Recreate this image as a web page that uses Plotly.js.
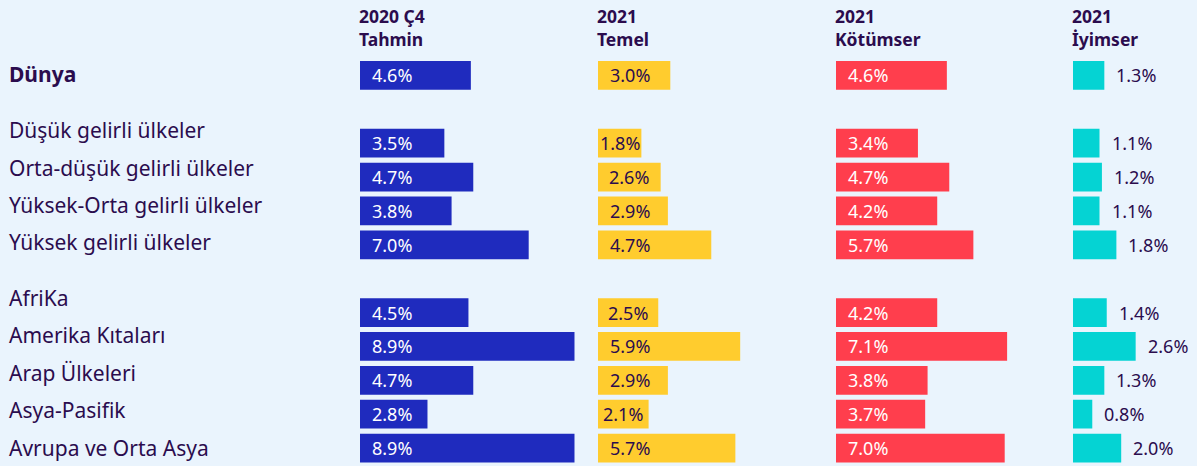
<!DOCTYPE html>
<html>
<head>
<meta charset="utf-8">
<script src="https://cdn.plot.ly/plotly-3.0.1.min.js"></script>
<style>
  html, body { margin: 0; padding: 0; background: #EAF4FD; }
  #chart { width: 1197px; height: 466px; }
</style>
</head>
<body>
<div id="chart"></div>
<script>
// ---- data ----
const rowLabels = ['Dünya', 'Düşük gelirli ülkeler', 'Orta-düşük gelirli ülkeler', 'Yüksek-Orta gelirli ülkeler', 'Yüksek gelirli ülkeler', 'AfriKa', 'Amerika Kıtaları', 'Arap Ülkeleri', 'Asya-Pasifik', 'Avrupa ve Orta Asya'];
const groupSizes = [1, 4, 5];
const seriesTitles = ['2020 Ç4<br>Tahmin', '2021<br>Temel', '2021<br>Kötümser', '2021<br>İyimser'];
const q4_2020 = [4.6, 3.5, 4.7, 3.8, 7.0, 4.5, 8.9, 4.7, 2.8, 8.9];
const base2021 = [3.0, 1.8, 2.6, 2.9, 4.7, 2.5, 5.9, 2.9, 2.1, 5.7];
const pess2021 = [4.6, 3.4, 4.7, 4.2, 5.7, 4.2, 7.1, 3.8, 3.7, 7.0];
const opt2021 = [1.3, 1.1, 1.2, 1.1, 1.8, 1.4, 2.6, 1.3, 0.8, 2.0];

// ---- styling / layout constants ----
const W = 1197, H = 466;
const PX_PER_UNIT = 24.1;
const colStartPx = [360, 598, 836, 1073];
const colRangeMax = [9.5, 9.5, 9.5, 5];
const colors = ['#1F2BBE', '#FFCC2E', '#FF3E4D', '#05D3D3'];
const textColors = ['#FFFFFF', '#2B0C4E', '#FFFFFF', '#2B0C4E'];
const dark = '#2B0C4E';
const FONT = 'Noto Sans, Open Sans, sans-serif';
const seriesVals = [q4_2020, base2021, pess2021, opt2021];

// slot positions (with a blank slot between groups)
const slots = [];
const labelShift = [];
let s = 0;
groupSizes.forEach((n, gi) => {
  for (let i = 0; i < n; i++) {
    slots.push(s + i);
    labelShift.push(n === 1 ? 1 : (gi === 1 ? 2.5 + (n - 1 - i) * 3.4 : 0.5 + (n - 1 - i) * 3.5));
  }
  s += n + 1;
});
const nSlots = s - 1;

const traces = [];
const annotations = [];
const layout = {
  width: W, height: H,
  margin: {l: 0, r: 0, t: 0, b: 0},
  paper_bgcolor: '#EAF4FD',
  plot_bgcolor: 'rgba(0,0,0,0)',
  showlegend: false,
  hovermode: false,
  font: {family: FONT, color: dark},
  yaxis: {domain: [0, 1 - 58.5 / H], range: [nSlots - 0.47, -0.5], visible: false, fixedrange: true},
  bargap: 0.15
};

seriesVals.forEach((vals, ci) => {
  const ax = ci === 0 ? '' : String(ci + 1);
  const x0 = colStartPx[ci] / W;
  const x1 = (colStartPx[ci] + colRangeMax[ci] * PX_PER_UNIT) / W;
  layout['xaxis' + ax] = {domain: [x0, Math.min(1, x1)], range: [0, colRangeMax[ci]], visible: false, fixedrange: true};
  traces.push({
    type: 'bar', orientation: 'h',
    x: vals, y: slots,
    xaxis: 'x' + ax, yaxis: 'y',
    width: 0.85,
    marker: {color: colors[ci], line: {width: 0}},
    hoverinfo: 'skip'
  });
  // header
  annotations.push({
    xref: 'paper', yref: 'paper', x: x0, y: 1 - 2 / H, xanchor: 'left', yanchor: 'top',
    xshift: -3, text: '<b>' + seriesTitles[ci] + '</b>', align: 'left', showarrow: false,
    font: {family: FONT, size: 17.5, color: dark}
  });
  // values
  vals.forEach((v, ri) => {
    const label = v.toFixed(1) + '%';
    if (ci < 3) {
      const barPx = v * PX_PER_UNIT;
      const pad = Math.max(0, Math.min(12, (barPx - 40) / 2));
      annotations.push({
        xref: 'x' + ax, yref: 'y', x: 0, y: slots[ri], xanchor: 'left', yanchor: 'middle',
        xshift: pad - 2, text: label, showarrow: false,
        font: {family: FONT, size: 18, color: textColors[ci]}
      });
    } else {
      annotations.push({
        xref: 'x' + ax, yref: 'y', x: v, y: slots[ri], xanchor: 'left', yanchor: 'middle',
        xshift: 10, text: label, showarrow: false,
        font: {family: FONT, size: 18, color: textColors[ci]}
      });
    }
  });
});

// row labels
rowLabels.forEach((lab, ri) => {
  annotations.push({
    xref: 'paper', yref: 'y', x: 7 / W, y: slots[ri], xanchor: 'left', yanchor: 'middle',
    yshift: labelShift[ri], text: ri === 0 ? '<b>' + lab + '</b>' : lab, showarrow: false,
    font: {family: FONT, size: 21, color: dark}
  });
});

layout.annotations = annotations;
Plotly.newPlot('chart', traces, layout, {displayModeBar: false, staticPlot: true});
</script>
</body>
</html>
